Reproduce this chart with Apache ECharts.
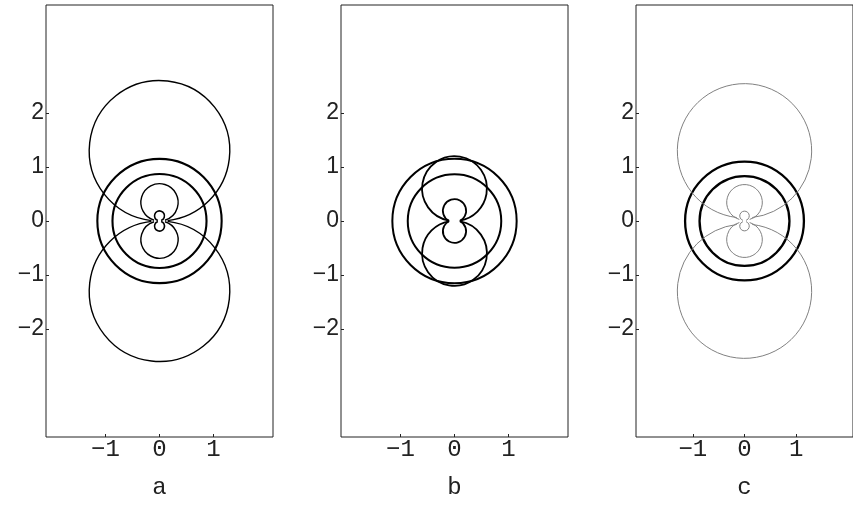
<!DOCTYPE html>
<html>
<head>
<meta charset="utf-8">
<script src="https://cdn.jsdelivr.net/npm/echarts@6/dist/echarts.min.js"></script>
<style>
  html, body { margin: 0; padding: 0; background: #fff; }
  #chart { width: 853px; height: 506px; }
</style>
</head>
<body>
<div id="chart"></div>
<script>
// ---- data ----
const panelNames = ['a', 'b', 'c'];
const xTicks = [-1, 0, 1];
const yTicks = [-2, -1, 0, 1, 2];
const xRange = [-2.1, 2.1];
const yRange = [-4, 4];

// circles: [cx, cy, r, gapHalfWidth near origin]
const ringsA = [[0, 0, 1.15, 0], [0, 0, 0.87, 0]];
const loopsA = [[0, 1.3, 1.3, 0.15], [0, -1.3, 1.3, 0.15], [0, 0.345, 0.345, 0.1], [0, -0.345, 0.345, 0.1]];
const peanutA = [[0, 0.095, 0.092, 0.03], [0, -0.095, 0.092, 0.03]];

const ringsB = [[0, 0, 1.15, 0], [0, 0, 0.865, 0]];
const loopsB = [[0, 0.6, 0.6, 0.1], [0, -0.6, 0.6, 0.1]];
const peanutB = [[0, 0.19, 0.215, 0.1], [0, -0.19, 0.215, 0.1]];

const ringsC = [[0, 0, 1.15, 0], [0, 0, 0.87, 0]];
const loopsC = [[0, 1.3, 1.3, 0.15], [0, -1.3, 1.3, 0.15], [0, 0.345, 0.345, 0.1], [0, -0.345, 0.345, 0.1]];
const peanutC = [[0, 0.095, 0.092, 0.03], [0, -0.095, 0.092, 0.03]];

// ---- chart ----
const gridLefts = [46, 341, 636];
const gridTop = 5, gridW = 227, gridH = 432;

function minus(v) { return v < 0 ? '\u2212' + Math.abs(v) : String(v); }

function makeRender(stroke, width) {
  return function (params, api) {
    const cx = api.value(0), cy = api.value(1), r = api.value(2), g = api.value(3);
    const c = api.coord([cx, cy]);
    const rp = api.size([r, 0])[0];
    const style = { stroke: stroke, lineWidth: width, fill: 'none' };
    if (!g) {
      return { type: 'circle', shape: { cx: c[0], cy: c[1], r: rp }, style: style, silent: true };
    }
    const gg = Math.min(1, g / r);
    const a = Math.asin(gg);
    // for overlapping peanut lobes the gap lies on the far side of the centre
    const toward = cy > 0 ? Math.PI / 2 : -Math.PI / 2;
    return {
      type: 'arc',
      shape: { cx: c[0], cy: c[1], r: rp, startAngle: toward + a, endAngle: toward - a + 2 * Math.PI, clockwise: true },
      style: style, silent: true
    };
  };
}

const grids = [], xAxes = [], yAxes = [], series = [];
panelNames.forEach(function (name, i) {
  grids.push({ left: gridLefts[i], top: gridTop, width: gridW, height: gridH, show: true,
    borderColor: '#222', borderWidth: 1, backgroundColor: 'transparent', containLabel: false });
  xAxes.push({
    gridIndex: i, type: 'value', min: xRange[0], max: xRange[1], position: 'bottom',
    splitLine: { show: false }, axisLine: { show: false, onZero: false },
    axisTick: { show: true, inside: true, length: 3, customValues: xTicks, lineStyle: { color: '#222' } },
    axisLabel: { customValues: xTicks, formatter: minus, margin: 1, color: '#222',
      fontFamily: 'Liberation Mono', fontSize: 24 },
    name: name, nameLocation: 'middle', nameGap: 39,
    nameTextStyle: { fontFamily: 'Liberation Mono', fontSize: 24, color: '#222' }
  });
  yAxes.push({
    gridIndex: i, type: 'value', min: yRange[0], max: yRange[1], position: 'left',
    splitLine: { show: false }, axisLine: { show: false, onZero: false },
    axisTick: { show: true, inside: true, length: 3, customValues: yTicks, lineStyle: { color: '#222' } },
    axisLabel: { customValues: yTicks, formatter: minus, margin: 2, color: '#222',
      fontFamily: 'Liberation Sans', fontSize: 23 }
  });
});

function addSeries(i, data, stroke, width) {
  series.push({ type: 'custom', xAxisIndex: i, yAxisIndex: i, data: data,
    renderItem: makeRender(stroke, width), silent: true, animation: false, clip: false });
}
addSeries(0, ringsA, '#000', 2.1);
addSeries(0, loopsA, '#000', 1.4);
addSeries(0, peanutA, '#000', 1.6);
addSeries(1, ringsB, '#000', 2);
addSeries(1, loopsB, '#000', 1.8);
addSeries(1, peanutB, '#000', 1.8);
addSeries(2, ringsC, '#000', 2.3);
addSeries(2, loopsC, '#808080', 1);
addSeries(2, peanutC, '#808080', 1);

const chart = echarts.init(document.getElementById('chart'), null, { renderer: 'canvas' });
chart.setOption({ animation: false, grid: grids, xAxis: xAxes, yAxis: yAxes, series: series });
</script>
</body>
</html>
